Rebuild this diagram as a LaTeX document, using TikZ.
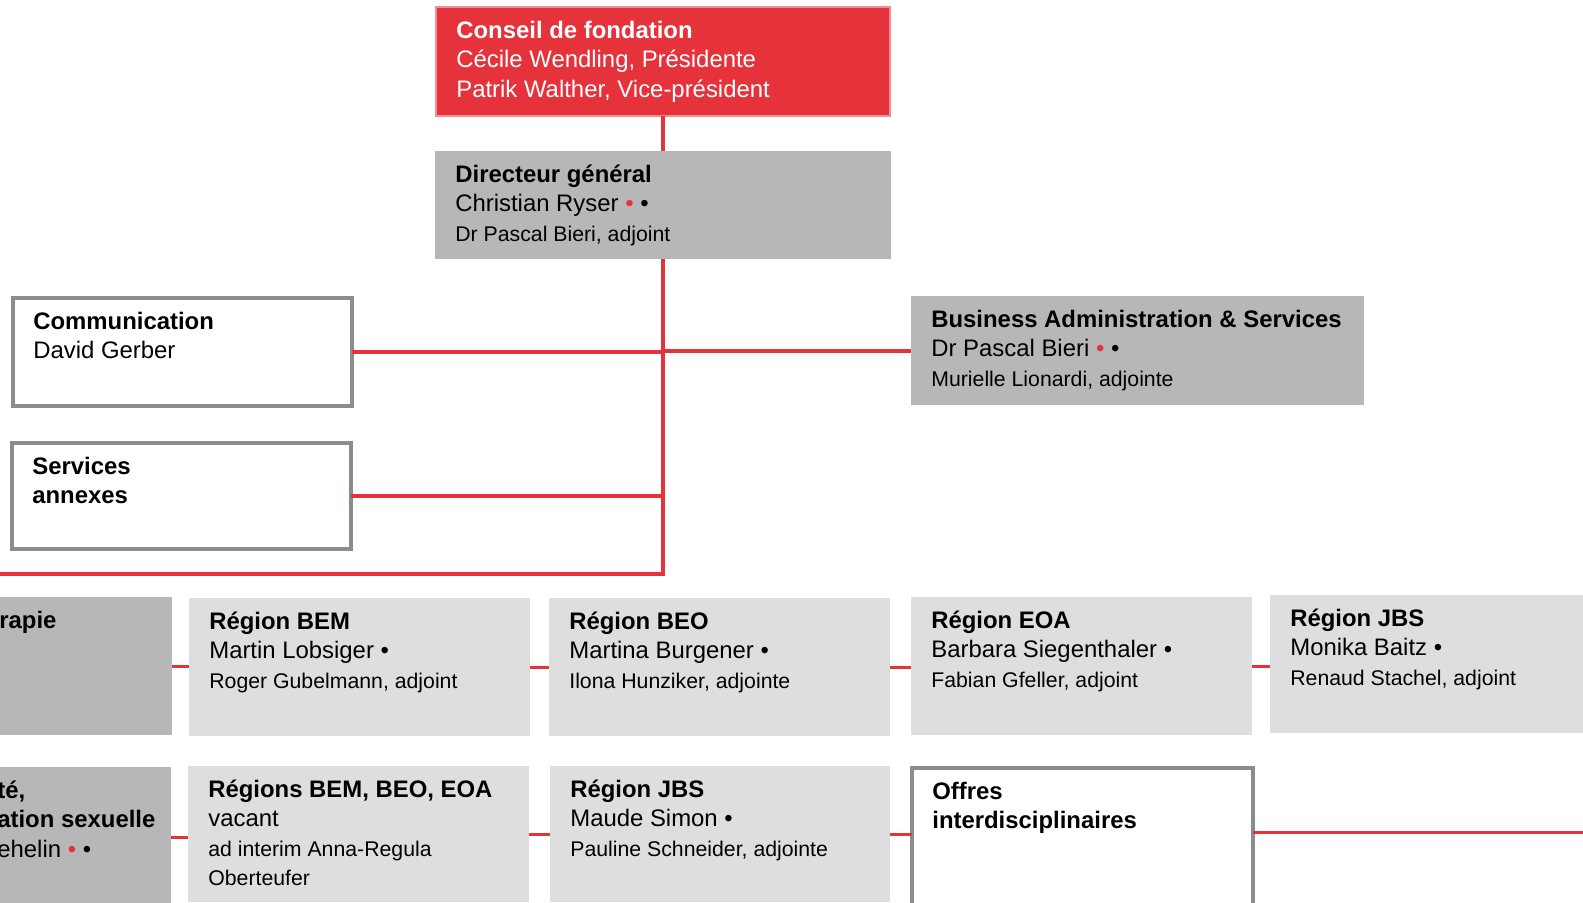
\documentclass[tikz,border=0pt]{standalone}
\usepackage{fontspec}
\setmainfont{Liberation Sans}

\definecolor{chartred}{RGB}{229,50,59}
\definecolor{boxdark}{RGB}{183,183,183}
\definecolor{boxlight}{RGB}{222,222,222}
\definecolor{framegray}{RGB}{140,140,140}

\def\pxu{0.02cm}
\newcommand{\topstrut}{\rule{0pt}{0.44cm}}
\newcommand{\sm}{\fontsize{12.1}{16.7}\selectfont}
\newcommand{\rdot}{\textcolor{chartred}{•}}
\newcommand{\boxtext}[3][black]{\node[boxtext, text=#1] (#2-text) at ([shift={(20,9)}]#2.north west) {\topstrut#3};}

\tikzset{
	orgbox/.style={anchor=north west, inner sep=0pt, outer sep=0pt},
	boxsize/.style 2 args={minimum width=#1*\pxu, minimum height=#2*\pxu},
	redbox/.style={orgbox, fill=chartred, draw=chartred!55!white, line width=1.2*\pxu},
	darkbox/.style={orgbox, fill=boxdark},
	lightbox/.style={orgbox, fill=boxlight},
	framebox/.style={orgbox, fill=white, draw=framegray, line width=4*\pxu},
	boxtext/.style={anchor=north west, inner sep=0pt, align=left, font=\fontsize{13.6}{16.7}\selectfont},
	link/.style={draw=chartred, line width=4*\pxu},
	thinlink/.style={draw=chartred, line width=3*\pxu},
}

\begin{document}
\begin{tikzpicture}[x=0.02cm, y=-0.02cm]
		%%%%% START %%%%%
		\useasboundingbox (0,0) rectangle (1583,903);
		\clip (0,0) rectangle (1583,903);
		
		% top
		\node[redbox, boxsize={454}{109}] (conseil) at (436,7) {};
		\node[darkbox, boxsize={456}{108}] (directeur) at (435,151) {};
		
		% staff
		\node[framebox, boxsize={339}{108}] (comm) at (13,298) {};
		\node[framebox, boxsize={339}{106}] (services) at (12,443) {};
		\node[darkbox, boxsize={453}{109}] (bas) at (911,296) {};
		
		% row 1
		\node[darkbox, boxsize={193}{138}] (therapie) at (-21,597) {};
		\node[lightbox, boxsize={341}{138}] (bem) at (189,598) {};
		\node[lightbox, boxsize={341}{138}] (beo) at (549,598) {};
		\node[lightbox, boxsize={341}{138}] (eoa) at (911,597) {};
		\node[lightbox, boxsize={341}{138}] (jbs) at (1270,595) {};
		
		% row 2
		\node[darkbox, boxsize={194}{140}] (sante) at (-23,767) {};
		\node[lightbox, boxsize={341}{136}] (regions) at (188,766) {};
		\node[lightbox, boxsize={340}{136}] (jbsdeux) at (550,766) {};
		\node[framebox, boxsize={341}{160}] (offres) at (912,768) {};
		
		% connectors
		\coordinate (corner) at (663,574);
		\coordinate (leftend) at (0,574);
		\coordinate (rightend) at (1583,832);
		\draw[link] (conseil.south) -- (directeur.north);
		\draw[link] (directeur.south) -- (corner) -- (leftend);
		\draw[link] (comm.east) -- (comm.east -| directeur.south);
		\draw[link] (bas.west -| directeur.south) -- (bas.west);
		\draw[link] (services.east) -- (services.east -| directeur.south);
		
		\draw[thinlink] (therapie.east) -- (therapie.east -| bem.west);
		\draw[thinlink] (bem.east) -- (bem.east -| beo.west);
		\draw[thinlink] (beo.east) -- (beo.east -| eoa.west);
		\draw[thinlink] (eoa.east) -- (eoa.east -| jbs.west);
		\draw[thinlink] (sante.east) -- (sante.east -| regions.west);
		\draw[thinlink] (regions.east) -- (regions.east -| jbsdeux.west);
		\draw[thinlink] (jbsdeux.east) -- (jbsdeux.east -| offres.west);
		\draw[thinlink] (offres.east |- rightend) -- (rightend);
		
		% texts
		\boxtext[white]{conseil}{\textbf{Conseil de fondation}\\Cécile Wendling, Présidente\\Patrik Walther, Vice-président}
		\boxtext{directeur}{\textbf{Directeur général}\\Christian Ryser \rdot{} •\\{\sm Dr Pascal Bieri, adjoint}}
		\boxtext{comm}{\textbf{Communication}\\David Gerber}
		\boxtext{services}{\textbf{Services}\\\textbf{annexes}}
		\boxtext{bas}{\textbf{Business Administration \& Services}\\Dr Pascal Bieri \rdot{} •\\{\sm Murielle Lionardi, adjointe}}
		
		\boxtext{therapie}{\textbf{rapie}}
		\boxtext{bem}{\textbf{Région BEM}\\Martin Lobsiger •\\{\sm Roger Gubelmann, adjoint}}
		\boxtext{beo}{\textbf{Région BEO}\\Martina Burgener •\\{\sm Ilona Hunziker, adjointe}}
		\boxtext{eoa}{\textbf{Région EOA}\\Barbara Siegenthaler •\\{\sm Fabian Gfeller, adjoint}}
		\boxtext{jbs}{\textbf{Région JBS}\\Monika Baitz •\\{\sm Renaud Stachel, adjoint}}
		
		\boxtext{sante}{\textbf{té,}\\\textbf{ation sexuelle}\\ehelin \rdot{} •}
		\boxtext{regions}{\textbf{Régions BEM, BEO, EOA}\\vacant\\{\sm ad interim Anna-Regula}\\{\sm Oberteufer}}
		\boxtext{jbsdeux}{\textbf{Région JBS}\\Maude Simon •\\{\sm Pauline Schneider, adjointe}}
		\boxtext{offres}{\textbf{Offres}\\\textbf{interdisciplinaires}}
		
		%%%%% END %%%%%
	\end{tikzpicture}
\end{document}
